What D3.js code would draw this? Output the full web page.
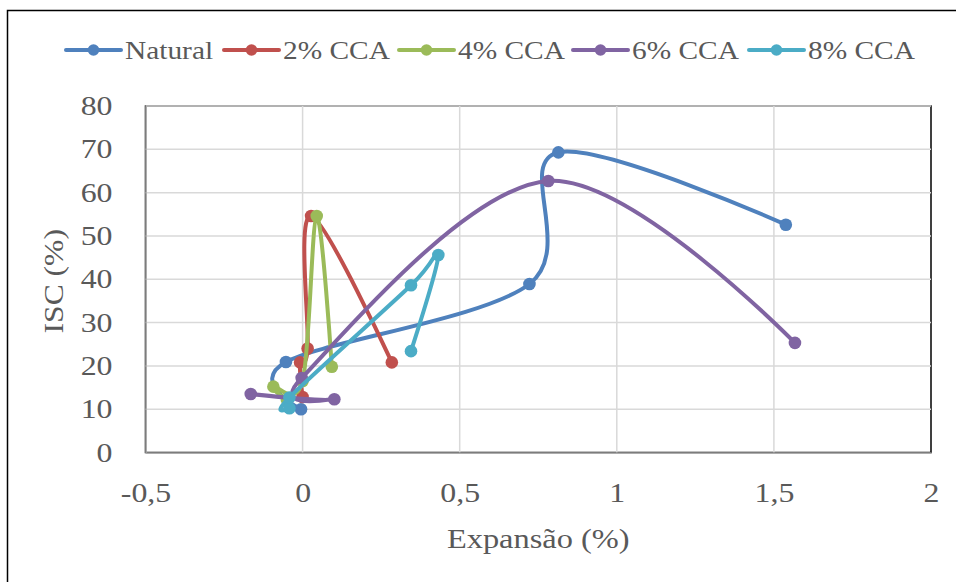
<!DOCTYPE html>
<html>
<head>
<meta charset="utf-8">
<script src="https://cdn.jsdelivr.net/npm/d3@7"></script>
<style>
  html, body { margin: 0; padding: 0; background: #fff; }
  svg { display: block; }
  text { font-family: "Liberation Serif", "Times New Roman", serif; fill: #595959; }
</style>
</head>
<body>
<svg id="chart" width="956" height="582"></svg>
<script>
// ---- Data ----
const seriesNames = ["Natural", "2% CCA", "4% CCA", "6% CCA", "8% CCA"];
const seriesColors = ["#4f81bd", "#c0504d", "#9bbb59", "#8064a2", "#4bacc6"];

const naturalX = [-0.005, -0.053, 0.722, 0.814, 1.538];
const naturalY = [10.0, 20.9, 38.9, 69.3, 52.6];

const cca2X = [0.0, -0.008, 0.016, 0.027, 0.284];
const cca2Y = [12.8, 20.8, 24.0, 54.6, 20.8];

const cca4X = [-0.05, -0.093, 0.0, 0.045, 0.093];
const cca4Y = [12.2, 15.2, 16.5, 54.6, 19.8];

const cca6X = [-0.165, 0.101, -0.003, 0.782, 1.567];
const cca6Y = [13.5, 12.3, 17.2, 62.7, 25.3];

const cca8X = [-0.042, -0.042, 0.345, 0.432, 0.345];
const cca8Y = [10.2, 12.7, 38.6, 45.6, 23.4];

const xTicks = [-0.5, 0, 0.5, 1, 1.5, 2];
const yTicks = [0, 10, 20, 30, 40, 50, 60, 70, 80];

const seriesX = [naturalX, cca2X, cca4X, cca6X, cca8X];
const seriesY = [naturalY, cca2Y, cca4Y, cca6Y, cca8Y];

// ---- Layout ----
const svg = d3.select("#chart");
const plot = { left: 145.5, right: 931, top: 106, bottom: 452.5 };

const x = d3.scaleLinear().domain([-0.5, 2]).range([plot.left, plot.right]);
const y = d3.scaleLinear().domain([0, 80]).range([plot.bottom, plot.top]);

const fmt = d => String(d).replace(".", ",");

// widen glyphs horizontally to match the reference's text proportions
function stretch(sel, k) {
  sel.each(function () {
    const len = this.getComputedTextLength();
    d3.select(this).attr("textLength", len * k).attr("lengthAdjust", "spacingAndGlyphs");
  });
}

// outer chart border (only left/top visible in the picture)
svg.append("rect")
  .attr("x", 7.5).attr("y", 10.5).attr("width", 1000).attr("height", 1000)
  .attr("fill", "none").attr("stroke", "#000").attr("stroke-width", 1.5);

// plot area border
svg.append("rect")
  .attr("x", plot.left).attr("y", plot.top)
  .attr("width", plot.right - plot.left).attr("height", plot.bottom - plot.top)
  .attr("fill", "none").attr("stroke", "#000").attr("stroke-width", 1.5);

// gridlines
const grid = svg.append("g");
grid.selectAll("line.h").data(yTicks.slice(1)).enter().append("line")
  .attr("x1", plot.left).attr("x2", plot.right)
  .attr("y1", d => y(d)).attr("y2", d => y(d))
  .attr("stroke", "#d9d9d9").attr("stroke-width", 1.5);
grid.selectAll("line.v").data(xTicks.slice(1, -1)).enter().append("line")
  .attr("y1", plot.top).attr("y2", plot.bottom)
  .attr("x1", d => x(d)).attr("x2", d => x(d))
  .attr("stroke", "#d9d9d9").attr("stroke-width", 1.5);

// axes
const xAxis = d3.axisBottom(x).tickValues(xTicks).tickFormat(fmt).tickSize(0).tickPadding(30);
const gx = svg.append("g").attr("transform", `translate(0,${plot.bottom})`).call(xAxis);
gx.select(".domain").attr("stroke", "#a6a6a6").attr("stroke-width", 1.5);
gx.selectAll("text").style("font-size", "27px").attr("fill", "#595959")
  .style("font-family", "Liberation Serif, serif");
stretch(gx.selectAll("text"), 1.18);

const yAxis = d3.axisLeft(y).tickValues(yTicks).tickFormat(fmt).tickSize(0).tickPadding(33);
const gy = svg.append("g").attr("transform", `translate(${plot.left},0)`).call(yAxis);
gy.select(".domain").attr("stroke", "#a6a6a6").attr("stroke-width", 1.5);
gy.selectAll("text").style("font-size", "27px").attr("fill", "#595959")
  .style("font-family", "Liberation Serif, serif");
stretch(gy.selectAll("text"), 1.18);

// axis titles
const xt = svg.append("text")
  .attr("x", (plot.left + plot.right) / 2).attr("y", 548)
  .attr("text-anchor", "middle").style("font-size", "27px")
  .text("Expansão (%)");
stretch(xt, 1.2);
const yt = svg.append("text")
  .attr("transform", `translate(63,${(plot.top + plot.bottom) / 2 + 2}) rotate(-90)`)
  .attr("text-anchor", "middle").style("font-size", "27px")
  .text("ISC (%)");
stretch(yt, 1.17);

// series
const line = d3.line().x(d => x(d[0])).y(d => y(d[1])).curve(d3.curveCatmullRom.alpha(0));
seriesNames.forEach((name, i) => {
  const pts = seriesX[i].map((v, j) => [v, seriesY[i][j]]);
  const g = svg.append("g");
  g.append("path").datum(pts)
    .attr("d", line).attr("fill", "none")
    .attr("stroke", seriesColors[i]).attr("stroke-width", 4)
    .attr("stroke-linecap", "round").attr("stroke-linejoin", "round");
  g.selectAll("circle").data(pts).enter().append("circle")
    .attr("cx", d => x(d[0])).attr("cy", d => y(d[1])).attr("r", 6.3)
    .attr("fill", seriesColors[i]);
});

// legend
const legendX = [66, 224, 399, 573, 749];
const lg = svg.append("g");
seriesNames.forEach((name, i) => {
  const lx = legendX[i];
  lg.append("line").attr("x1", lx).attr("x2", lx + 55).attr("y1", 50).attr("y2", 50)
    .attr("stroke", seriesColors[i]).attr("stroke-width", 4).attr("stroke-linecap", "round");
  lg.append("circle").attr("cx", lx + 27.5).attr("cy", 50).attr("r", 5.8).attr("fill", seriesColors[i]);
  const t = lg.append("text").attr("x", lx + 59).attr("y", 59).style("font-size", "26px").text(name);
  stretch(t, 1.13);
});
</script>
</body>
</html>
